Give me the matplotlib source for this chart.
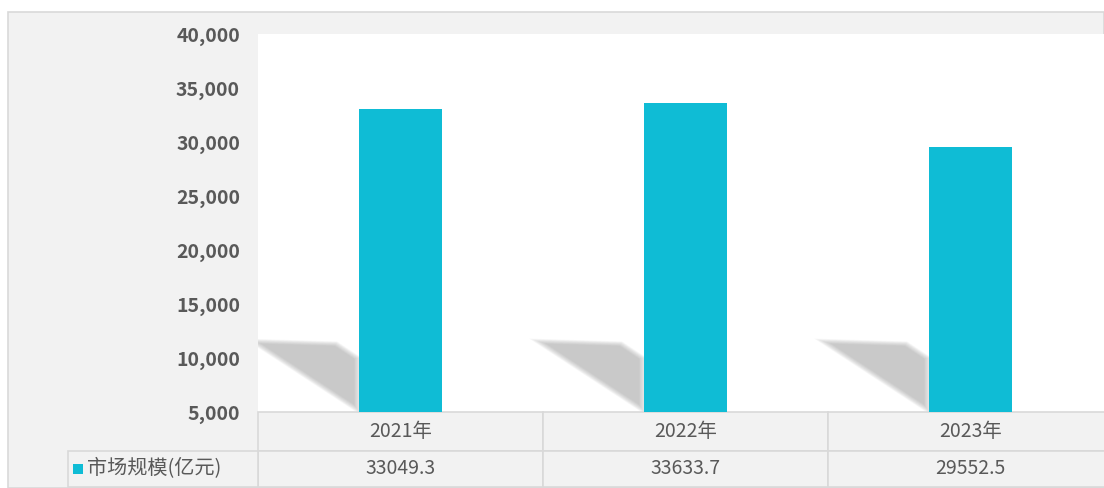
import matplotlib
matplotlib.use("Agg")
from matplotlib import pyplot as plt
from matplotlib.patches import Rectangle, Polygon
import matplotlib.transforms as mtransforms

plt.rcParams['font.family'] = ['Noto Sans CJK SC', 'DejaVu Sans']

# data
years = ["2021年", "2022年", "2023年"]
market_size = [33049.3, 33633.7, 29552.5]
series_name = "市场规模(亿元)"
y_ticks = [5000, 10000, 15000, 20000, 25000, 30000, 35000, 40000]

bar_color = "#0FBCD5"
panel_color = "#F2F2F2"
line_color = "#D9D9D9"
text_color = "#595959"

W, H = 1104, 488
fig = plt.figure(figsize=(W / 100, H / 100), dpi=100)
fig.patch.set_facecolor("white")

def fx(px):
    return px / W

def fy(py):
    return 1 - py / H

# grey chart panel (behind the axes)
fig.patches.append(Rectangle((fx(8), 0), 1 - fx(8), fy(12), transform=fig.transFigure,
                             facecolor=panel_color, edgecolor=line_color, lw=1.2, zorder=-5))

# plot area
ax = fig.add_axes([fx(258), fy(412), fx(1113) - fx(258), fy(34) - fy(412)])
ax.set_facecolor("white")
x = list(range(len(years)))
ax.set_xlim(-0.5, len(years) - 0.5)
ax.set_ylim(5000, 40000)
for s in ax.spines.values():
    s.set_visible(False)
ax.set_xticks([])
ax.set_yticks(y_ticks)
ax.set_yticklabels([f"{v:,}" for v in y_ticks], color=text_color, fontsize=14, fontweight="bold")
ax.tick_params(axis="y", length=0, pad=13)

bw = 0.29
# soft blurred shadows to the left of the bars
for xi in x:
    left = xi - bw / 2
    base = [(left - 0.385, 11650), (left - 0.08, 11400), (left, 10000), (left, 5000)]
    cx = sum(p[0] for p in base) / 4
    cy = sum(p[1] for p in base) / 4
    for k in range(10):
        f = 1.07 - k * 0.025
        pts = [(cx + (px - cx) * f, cy + (py - cy) * f) for px, py in base]
        ax.add_patch(Polygon(pts, closed=True, facecolor="#8A8A8A", edgecolor="none",
                             alpha=0.055, zorder=1))

ax.bar(x, market_size, width=bw, bottom=0, color=bar_color, zorder=3)

# data table under the axis
tr = mtransforms.blended_transform_factory(ax.transData, ax.transAxes)
tr_fig = mtransforms.blended_transform_factory(fig.transFigure, ax.transAxes)
h1 = 39 / 378
h2 = 36 / 378
for xi, yr, val in zip(x, years, market_size):
    ax.add_patch(Rectangle((xi - 0.5, -h1), 1, h1, transform=tr, clip_on=False,
                           facecolor=panel_color, edgecolor=line_color, lw=1.2, zorder=2))
    ax.add_patch(Rectangle((xi - 0.5, -h1 - h2), 1, h2, transform=tr, clip_on=False,
                           facecolor=panel_color, edgecolor=line_color, lw=1.2, zorder=2))
    ax.text(xi, -h1 / 2, yr, transform=tr, ha="center", va="center",
            color=text_color, fontsize=14)
    ax.text(xi, -h1 - h2 / 2, f"{val}", transform=tr, ha="center", va="center",
            color=text_color, fontsize=14)

ax.add_patch(Rectangle((fx(68), -h1 - h2), fx(258) - fx(68), h2, transform=tr_fig, clip_on=False,
                       facecolor=panel_color, edgecolor=line_color, lw=1.2, zorder=2))
ax.add_patch(Rectangle((fx(73), -h1 - h2 / 2 - 0.014), fx(10), 0.028, transform=tr_fig,
                       clip_on=False, facecolor=bar_color, edgecolor="none", zorder=3))
ax.text(fx(87), -h1 - h2 / 2, series_name, transform=tr_fig, ha="left", va="center",
        color=text_color, fontsize=14.5)

plt.savefig("out.png", dpi=100)
